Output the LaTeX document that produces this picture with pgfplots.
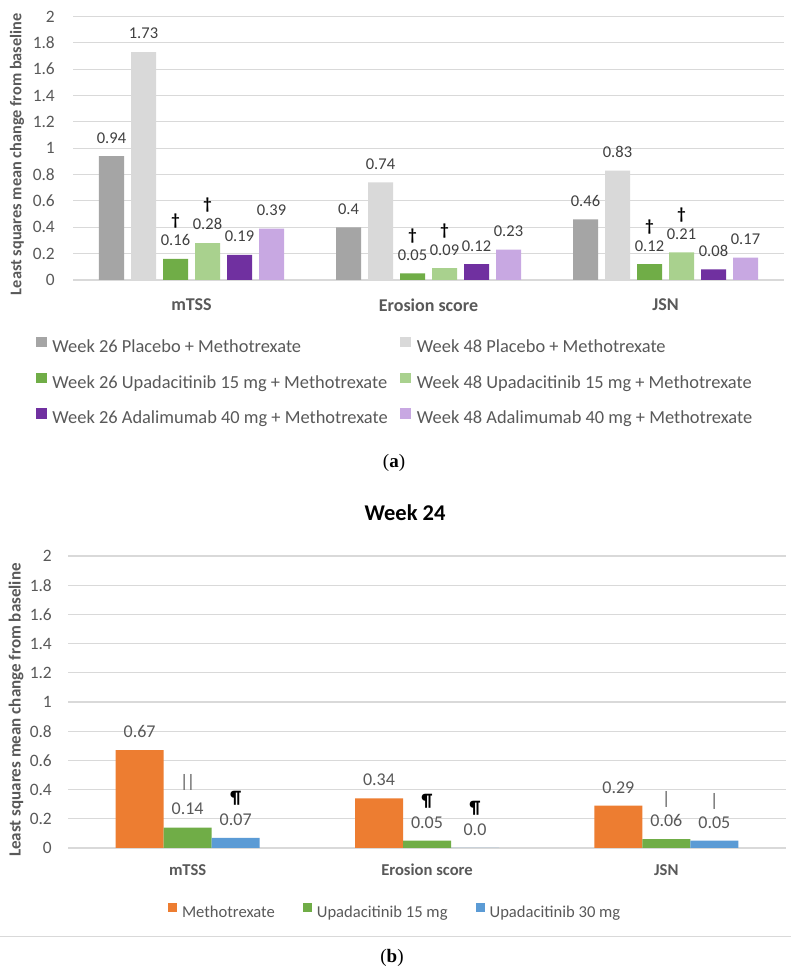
\documentclass[border=0pt]{standalone}
\usepackage{pgfplots}
\pgfplotsset{compat=1.18}
\usepackage{fontspec}
\setmainfont{Carlito}
\newfontfamily\capfont{Liberation Serif}
\definecolor{gridc}{HTML}{D9D9D9}
\definecolor{tickc}{HTML}{595959}
\definecolor{labc}{HTML}{404040}
\definecolor{pA}{HTML}{A5A5A5}
\definecolor{pB}{HTML}{D9D9D9}
\definecolor{uA}{HTML}{70AD47}
\definecolor{uB}{HTML}{A9D18E}
\definecolor{aA}{HTML}{7030A0}
\definecolor{aB}{HTML}{C8A8E2}
\definecolor{orB}{HTML}{ED7D31}
\definecolor{grB}{HTML}{70AD47}
\definecolor{blB}{HTML}{5B9BD5}
\protected\def\dg{\textcolor{black}{\bfseries †}}
\protected\def\pil{\textcolor{black}{\bfseries ¶}}
\protected\def\dbar{\raisebox{5bp}{|\kern-1.5bp|}}
\protected\def\lb#1{\makebox[345bp][l]{#1}}
\pgfplotsset{
  sqA/.style={legend image code/.code={\fill[##1] (0bp,1bp) rectangle (10.5bp,11.5bp);}},
  sqB/.style={legend image code/.code={\fill[##1] (0bp,1bp) rectangle (9bp,10bp);}},
}
\begin{document}
\begin{tikzpicture}
\useasboundingbox (0,0) rectangle (791bp,969bp);
\fill[white] (0,0) rectangle (791bp,969bp);

% ---------- (a) ----------
\begin{axis}[
  at={(73bp,689bp)}, anchor=south west, scale only axis,
  width=711bp, height=263.5bp,
  xmin=-0.5, xmax=2.5, ymin=0, ymax=2, clip=false,
  ybar=7bp, bar width=25bp,
  axis line style={draw=none}, major tick length=0pt,
  ymajorgrids, grid style={color=gridc, line width=1.1bp},
  ytick={0,0.2,0.4,0.6,0.8,1,1.2,1.4,1.6,1.8,2},
  /pgf/number format/assume math mode=true,
  yticklabel style={font=\fontsize{17.4bp}{20bp}\selectfont, text=tickc, inner xsep=0pt, xshift=-18bp},
  xtick={0,1,2}, xticklabels={mTSS,Erosion score,JSN},
  xticklabel style={font=\bfseries\fontsize{18bp}{21bp}\selectfont, text=tickc, anchor=center, yshift=-25bp},
  every axis y label/.style={at={(rel axis cs:0,0.5)}, xshift=-56bp, yshift=-6bp, rotate=90, anchor=center,
     font=\bfseries\fontsize{16.3bp}{19bp}\selectfont, text=tickc},
  ylabel={Least squares mean change from baseline},
  point meta=explicit symbolic,
  nodes near coords,
  every node near coord/.append style={anchor=south, inner sep=0pt, yshift=12.8bp, align=center,
     font=\fontsize{16.5bp}{20bp}\selectfont, text=labc},
  every axis plot post/.append style={sqA},
  legend columns=2,
  legend style={at={(rel axis cs:0,0)}, anchor=north west, xshift=-37bp, yshift=-57bp,
     draw=none, fill=none, inner sep=0pt, outer sep=0pt, row sep=16.2bp, column sep=0pt,
     font=\fontsize{18.4bp}{22bp}\selectfont, text=tickc,
     nodes={inner sep=0pt, text height=12bp, text depth=4bp},
     /tikz/every odd column/.append style={column sep=6bp},
     /tikz/every even column/.append style={column sep=3bp}},
]
\addplot[fill=pA, draw=none] coordinates {(0,0.94)[0.94] (1,0.40)[0.4] (2,0.46)[0.46]};
\addplot[fill=pB, draw=none] coordinates {(0,1.73)[1.73] (1,0.74)[0.74] (2,0.83)[0.83]};
\addplot[fill=uA, draw=none] coordinates {(0,0.16)[{\dg\\0.16}] (1,0.05)[{\dg\\0.05}] (2,0.12)[{\dg\\0.12}]};
\addplot[fill=uB, draw=none] coordinates {(0,0.28)[{\dg\\0.28}] (1,0.09)[{\dg\\0.09}] (2,0.21)[{\dg\\0.21}]};
\addplot[fill=aA, draw=none] coordinates {(0,0.19)[0.19] (1,0.12)[0.12] (2,0.08)[0.08]};
\addplot[fill=aB, draw=none] coordinates {(0,0.39)[0.39] (1,0.23)[0.23] (2,0.17)[0.17]};
\legend{\lb{Week 26 Placebo + Methotrexate}, \lb{Week 48 Placebo + Methotrexate},
  \lb{Week 26 Upadacitinib 15 mg + Methotrexate}, \lb{Week 48 Upadacitinib 15 mg + Methotrexate},
  \lb{Week 26 Adalimumab 40 mg + Methotrexate}, \lb{Week 48 Adalimumab 40 mg + Methotrexate}}
\end{axis}

\node[font=\capfont\fontsize{19bp}{22bp}\selectfont] at (394bp,506bp) {(\textbf{a})};
\node[font=\bfseries\fontsize{22.5bp}{26bp}\selectfont, text=black] at (405bp,456bp) {Week 24};

% ---------- (b) ----------
\begin{axis}[
  at={(68bp,121bp)}, anchor=south west, scale only axis,
  width=718bp, height=292bp,
  xmin=-0.5, xmax=2.5, ymin=0, ymax=2, clip=false,
  ybar=0pt, bar width=48bp,
  axis line style={draw=none}, major tick length=0pt,
  ymajorgrids, grid style={color=gridc, line width=1.1bp},
  ytick={0,0.2,0.4,0.6,0.8,1,1.2,1.4,1.6,1.8,2},
  /pgf/number format/assume math mode=true,
  yticklabel style={font=\fontsize{17.4bp}{20bp}\selectfont, text=tickc, inner xsep=0pt, xshift=-16bp},
  xtick={0,1,2}, xticklabels={mTSS,Erosion score,JSN},
  xticklabel style={font=\bfseries\fontsize{16.6bp}{19bp}\selectfont, text=tickc, anchor=center, yshift=-22bp},
  every axis y label/.style={at={(rel axis cs:0,0.5)}, xshift=-52bp, yshift=-8bp, rotate=90, anchor=center,
     font=\bfseries\fontsize{17bp}{20bp}\selectfont, text=tickc},
  ylabel={Least squares mean change from baseline},
  point meta=explicit symbolic,
  nodes near coords,
  every node near coord/.append style={anchor=south, inner sep=0pt, yshift=12.3bp, align=center,
     font=\fontsize{18bp}{22bp}\selectfont, text=tickc},
  every axis plot post/.append style={sqB},
  legend columns=3,
  legend style={at={(rel axis cs:0,0)}, anchor=north west, xshift=100bp, yshift=-55.4bp,
     draw=none, fill=none, inner sep=0pt, outer sep=0pt, column sep=0pt,
     font=\fontsize{16.6bp}{20bp}\selectfont, text=tickc,
     nodes={inner sep=0pt, text height=11bp, text depth=3.5bp},
     /tikz/every odd column/.append style={column sep=5bp},
     /tikz/every even column/.append style={column sep=28bp}},
]
\addplot[fill=orB, draw=none] coordinates {(0,0.67)[0.67] (1,0.34)[0.34] (2,0.29)[0.29]};
\addplot[fill=grB, draw=none] coordinates {(0,0.14)[{\dbar\\0.14}] (1,0.05)[{\pil\\0.05}] (2,0.06)[{|\\0.06}]};
\addplot[fill=blB, draw=none] coordinates {(0,0.07)[{\pil\\0.07}] (1,0)[{\pil\\0.0}] (2,0.05)[{|\\0.05}]};
\legend{Methotrexate, Upadacitinib 15 mg, Upadacitinib 30 mg}
\end{axis}

\draw[gridc, line width=1bp] (0,32bp) -- (791bp,32bp);
\node[font=\capfont\fontsize{19bp}{22bp}\selectfont] at (392bp,11bp) {(\textbf{b})};
\end{tikzpicture}
\end{document}
